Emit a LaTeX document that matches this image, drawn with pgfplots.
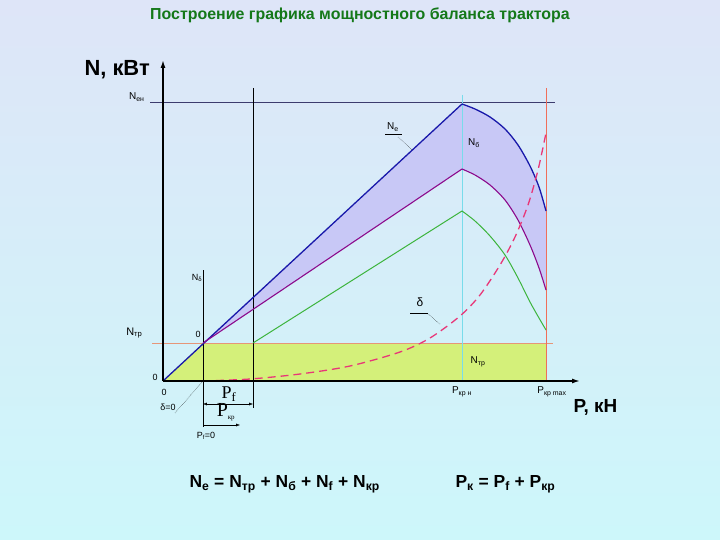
\documentclass[border=0pt]{standalone}
\usepackage{pgfplots}
\pgfplotsset{compat=1.18}
\usepackage{fontspec}
\setmainfont{Liberation Sans}
\newfontfamily\serifP{Liberation Serif}
\usetikzlibrary{arrows.meta}
\definecolor{bgtop}{RGB}{222,229,248}
\definecolor{bgbot}{RGB}{205,247,250}
\definecolor{titlegreen}{RGB}{20,120,25}
\definecolor{blueN}{RGB}{25,25,170}
\definecolor{purpN}{RGB}{140,10,140}
\definecolor{greenN}{RGB}{60,180,60}
\definecolor{redD}{RGB}{232,55,120}
\definecolor{lav}{RGB}{200,200,246}
\definecolor{yg}{RGB}{212,240,122}
\definecolor{cyanL}{RGB}{120,220,235}
\definecolor{redL}{RGB}{240,110,90}
\definecolor{oraL}{RGB}{230,150,120}
\definecolor{slateL}{RGB}{60,60,110}
\newcommand{\fs}[1]{\fontsize{#1}{#1}\selectfont}
\begin{document}
\begin{tikzpicture}
\begin{axis}[scale only axis, width=720bp, height=540bp,
  xmin=0, xmax=720, ymin=0, ymax=540, y dir=reverse,
  hide axis, clip=false]
% background
\shade[top color=bgtop, bottom color=bgbot] (axis cs:0,0) rectangle (axis cs:720,540);
% green area
\addplot[fill=yg, draw=none] coordinates {(163,381) (203,343) (546,343) (546,381)} -- cycle;
% lavender area
\addplot[fill=lav, draw=none] coordinates {(203,343) (462,104) (475,109) (490,117) (505,129) (518,145) (530,166) (539,187) (546,211) (546,290) (539,268) (530,245) (518,220) (505,200) (490,185) (475,175) (462,169)} -- cycle;
% reference lines
\addplot[slateL, thin] coordinates {(150,102) (555,102)};
\addplot[oraL, thin] coordinates {(152,343) (553,343)};
\addplot[black, thin] coordinates {(253,88) (253,408)};
\addplot[black, thin] coordinates {(203,270) (203,427)};
\addplot[cyanL, thin] coordinates {(462,95) (462,381)};
\addplot[redL, thin] coordinates {(546,88) (546,381)};
% curves
\addplot[blueN, line width=1.3pt] coordinates {(163,381) (462,104)};
\addplot[blueN, line width=1.3pt, smooth] coordinates {(462,104) (475,109) (490,117) (505,129) (518,145) (530,166) (539,187) (546,211)};
\addplot[purpN, line width=1.1pt] coordinates {(203,343) (462,169)};
\addplot[purpN, line width=1.1pt, smooth] coordinates {(462,169) (475,175) (490,185) (505,200) (518,220) (530,245) (539,268) (546,290)};
\addplot[greenN, line width=1pt] coordinates {(253,343) (462,211)};
\addplot[greenN, line width=1pt, smooth] coordinates {(462,211) (475,221) (490,236) (505,255) (518,278) (530,302) (539,318) (546,330)};
\addplot[redD, line width=1.3pt, dash pattern=on 8pt off 5pt, smooth] coordinates {(203,381) (250,379) (300,374) (350,366) (400,352) (430,338) (460,316) (480,295) (500,265) (515,237) (528,205) (538,170) (546,133)};
% axes
\addplot[black, line width=1.5pt, -{Latex[length=8pt,width=5pt]}] coordinates {(163,381) (163,60)};
\addplot[black, line width=1.5pt, -{Latex[length=8pt,width=5pt]}] coordinates {(163,381) (580,381)};
% dimension arrows
\addplot[black, thin, {Latex[length=4pt,width=3pt]}-{Latex[length=4pt,width=3pt]}] coordinates {(203,404) (253,404)};
\addplot[black, thin, -{Latex[length=4pt,width=3pt]}] coordinates {(203,425) (240,425)};
% leaders
\addplot[black, densely dotted, thin] coordinates {(175,413) (203,381)};
\addplot[black, densely dotted, thin] coordinates {(398,137) (412,150)};
\addplot[black, densely dotted, thin] coordinates {(428,314) (440,324)};
\addplot[black, thin] coordinates {(385,134) (402,134)};
\addplot[black, thin] coordinates {(410,313) (428,313)};
% texts
\node[text=titlegreen, font=\fs{16}\bfseries] at (axis cs:360,15) {Построение графика мощностного баланса трактора};
\node[font=\fs{22}\bfseries, anchor=west] at (axis cs:81,70) {N, кВт};
\node[font=\fs{19}\bfseries, anchor=west] at (axis cs:570,407) {P, кН};
\node[font=\fs{10}, anchor=east] at (axis cs:148,97) {N\textsubscript{ен}};
\node[font=\fs{11}, anchor=east] at (axis cs:146,333) {N\textsubscript{тр}};
\node[font=\fs{9}] at (axis cs:197,278) {N\textsubscript{δ}};
\node[font=\fs{9}] at (axis cs:198,334) {0};
\node[font=\fs{9}] at (axis cs:155,377) {0};
\node[font=\fs{9}] at (axis cs:164,392) {0};
\node[font=\fs{9}] at (axis cs:168,407) {δ=0};
\node[font=\fs{10}] at (axis cs:393,127) {N\textsubscript{е}};
\node[font=\fs{10}] at (axis cs:474,143) {N\textsubscript{б}};
\node[font=\fs{12}] at (axis cs:420,302) {δ};
\node[font=\fs{10}] at (axis cs:478,362) {N\textsubscript{тр}};
\node[font=\fs{10}] at (axis cs:462,392) {P\textsubscript{кр н}};
\node[font=\fs{10}] at (axis cs:552,392) {P\textsubscript{кр max}};
\node[font=\fs{18}\serifP] at (axis cs:229,394) {P\textsubscript{f}};
\node[font=\fs{20}\serifP] at (axis cs:226,412) {P\textsubscript{\fs{7}кр}};
\node[font=\fs{9}] at (axis cs:206,436) {P\textsubscript{f}=0};
\node[font=\fs{17.5}\bfseries, anchor=west] at (axis cs:186,484) {N\textsubscript{е} = N\textsubscript{тр} + N\textsubscript{б} + N\textsubscript{f} + N\textsubscript{кр}};
\node[font=\fs{17.5}\bfseries, anchor=west] at (axis cs:452,484) {P\textsubscript{к} = P\textsubscript{f} + P\textsubscript{кр}};
\end{axis}
\end{tikzpicture}
\end{document}
